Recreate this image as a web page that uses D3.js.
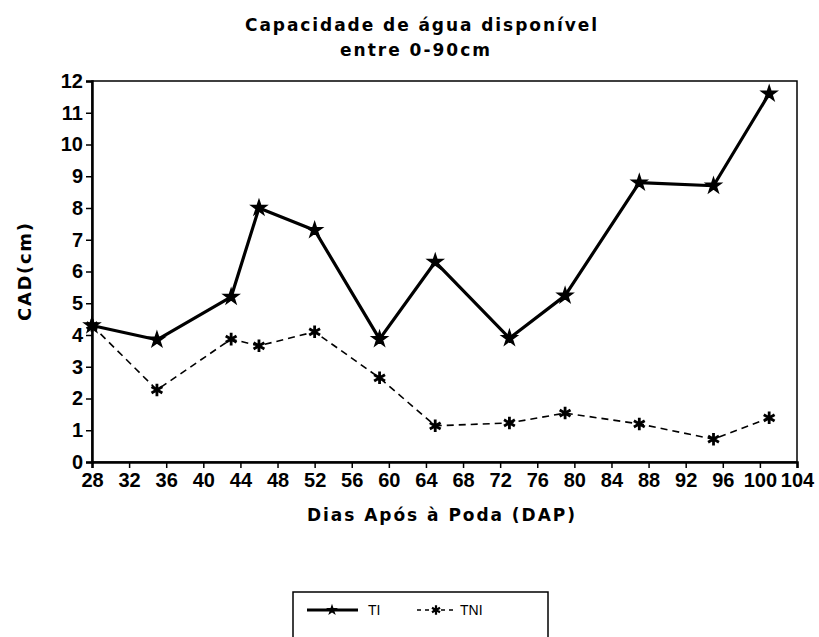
<!DOCTYPE html>
<html>
<head>
<meta charset="utf-8">
<script src="https://cdn.jsdelivr.net/npm/d3@7"></script>
<style>
  body { margin: 0; background: #fff; }
  text { font-family: "Liberation Sans", Arial, sans-serif; fill: #000; }
  text.heavy { font-family: "DejaVu Sans", sans-serif; font-weight: bold; }
</style>
</head>
<body>
<div id="chart"></div>
<script>
// dias apos a poda
var dias = [28, 35, 43, 46, 52, 59, 65, 73, 79, 87, 95, 101];
var ti = [4.3, 3.85, 5.2, 8.0, 7.3, 3.87, 6.3, 3.9, 5.24, 8.8, 8.7, 11.6];
var tni = [4.3, 2.27, 3.87, 3.66, 4.1, 2.65, 1.14, 1.23, 1.54, 1.2, 0.72, 1.39];
var xTicks = d3.range(28, 105, 4);
var yTicks = d3.range(0, 13, 1);

var W = 819, H = 637;
var margin = { top: 81, right: 22, bottom: 175, left: 92 };

var svg = d3.select("#chart").append("svg")
  .attr("width", W)
  .attr("height", H);

svg.append("rect").attr("width", W).attr("height", H).attr("fill", "#fff");

var x = d3.scaleLinear().domain([28, 104]).range([margin.left, W - margin.right]);
var y = d3.scaleLinear().domain([0, 12]).range([H - margin.bottom, margin.top]);

// frame
svg.append("rect")
  .attr("x", x(28)).attr("y", y(12))
  .attr("width", x(104) - x(28)).attr("height", y(0) - y(12))
  .attr("fill", "none").attr("stroke", "#000").attr("stroke-width", 1.5);

var xAxis = d3.axisBottom(x).tickValues(xTicks).tickSize(6).tickPadding(5);
var yAxis = d3.axisLeft(y).tickValues(yTicks).tickSize(6).tickPadding(3);

var gx = svg.append("g")
  .attr("transform", "translate(0," + y(0) + ")")
  .call(xAxis);
var gy = svg.append("g")
  .attr("transform", "translate(" + x(28) + ",0)")
  .call(yAxis);

[gx, gy].forEach(function(g) {
  g.select(".domain").attr("stroke-width", 2.5);
  g.selectAll(".tick line").attr("stroke-width", 1.5);
  g.selectAll(".tick text")
    .attr("font-size", 20)
    .attr("font-weight", "bold")
    .attr("font-family", "Liberation Sans, Arial, sans-serif");
});

// lines
var line = d3.line()
  .x(function(d) { return x(d[0]); })
  .y(function(d) { return y(d[1]); });

var tiData = dias.map(function(d, i) { return [d, ti[i]]; });
var tniData = dias.map(function(d, i) { return [d, tni[i]]; });

svg.append("path")
  .datum(tniData)
  .attr("d", line)
  .attr("fill", "none")
  .attr("stroke", "#000")
  .attr("stroke-width", 1.6)
  .attr("stroke-dasharray", "7,5");

svg.append("path")
  .datum(tiData)
  .attr("d", line)
  .attr("fill", "none")
  .attr("stroke", "#000")
  .attr("stroke-width", 3.2)
  .attr("stroke-linejoin", "round");

var ast = d3.symbol().type(d3.symbolAsterisk).size(110);
var star = d3.symbol().type(d3.symbolStar).size(70);

svg.append("g").selectAll("path")
  .data(tniData)
  .join("path")
  .attr("transform", function(d) { return "translate(" + x(d[0]) + "," + y(d[1]) + ")"; })
  .attr("d", ast)
  .attr("fill", "none")
  .attr("stroke", "#000")
  .attr("stroke-width", 2.8);

svg.append("g").selectAll("path")
  .data(tiData)
  .join("path")
  .attr("transform", function(d) { return "translate(" + x(d[0]) + "," + y(d[1]) + ")"; })
  .attr("d", star)
  .attr("fill", "#000")
  .attr("stroke", "#000")
  .attr("stroke-width", 1.5);

// title
svg.append("text")
  .attr("class", "heavy")
  .attr("x", 421).attr("y", 31)
  .attr("text-anchor", "middle")
  .attr("font-size", 17)
  .attr("textLength", 352).attr("lengthAdjust", "spacing")
  .text("Capacidade de água disponível");
svg.append("text")
  .attr("class", "heavy")
  .attr("x", 415).attr("y", 56)
  .attr("text-anchor", "middle")
  .attr("font-size", 17)
  .attr("textLength", 150).attr("lengthAdjust", "spacing")
  .text("entre 0-90cm");

// axis labels
svg.append("text")
  .attr("class", "heavy")
  .attr("x", 441).attr("y", 521)
  .attr("text-anchor", "middle")
  .attr("font-size", 17)
  .attr("textLength", 268).attr("lengthAdjust", "spacing")
  .text("Dias Após à Poda (DAP)");
svg.append("text")
  .attr("class", "heavy")
  .attr("transform", "translate(31,272) rotate(-90)")
  .attr("text-anchor", "middle")
  .attr("font-size", 18)
  .attr("textLength", 98).attr("lengthAdjust", "spacing")
  .text("CAD(cm)");

// legend
var lg = svg.append("g");
lg.append("rect")
  .attr("x", 293).attr("y", 592)
  .attr("width", 255).attr("height", 60)
  .attr("fill", "#fff").attr("stroke", "#000").attr("stroke-width", 1.5);
lg.append("line")
  .attr("x1", 307).attr("x2", 358).attr("y1", 610).attr("y2", 610)
  .attr("stroke", "#000").attr("stroke-width", 3.2);
lg.append("path")
  .attr("transform", "translate(332,610)")
  .attr("d", d3.symbol().type(d3.symbolStar).size(45))
  .attr("fill", "#000");
lg.append("text")
  .attr("x", 368).attr("y", 615)
  .attr("font-size", 14)
  .text("TI");
lg.append("line")
  .attr("x1", 417).attr("x2", 453).attr("y1", 610).attr("y2", 610)
  .attr("stroke", "#000").attr("stroke-width", 1.6).attr("stroke-dasharray", "4,4");
lg.append("path")
  .attr("transform", "translate(436,610)")
  .attr("d", d3.symbol().type(d3.symbolAsterisk).size(60))
  .attr("fill", "none").attr("stroke", "#000").attr("stroke-width", 2.2);
lg.append("text")
  .attr("x", 460).attr("y", 615)
  .attr("font-size", 14)
  .text("TNI");
</script>
</body>
</html>
